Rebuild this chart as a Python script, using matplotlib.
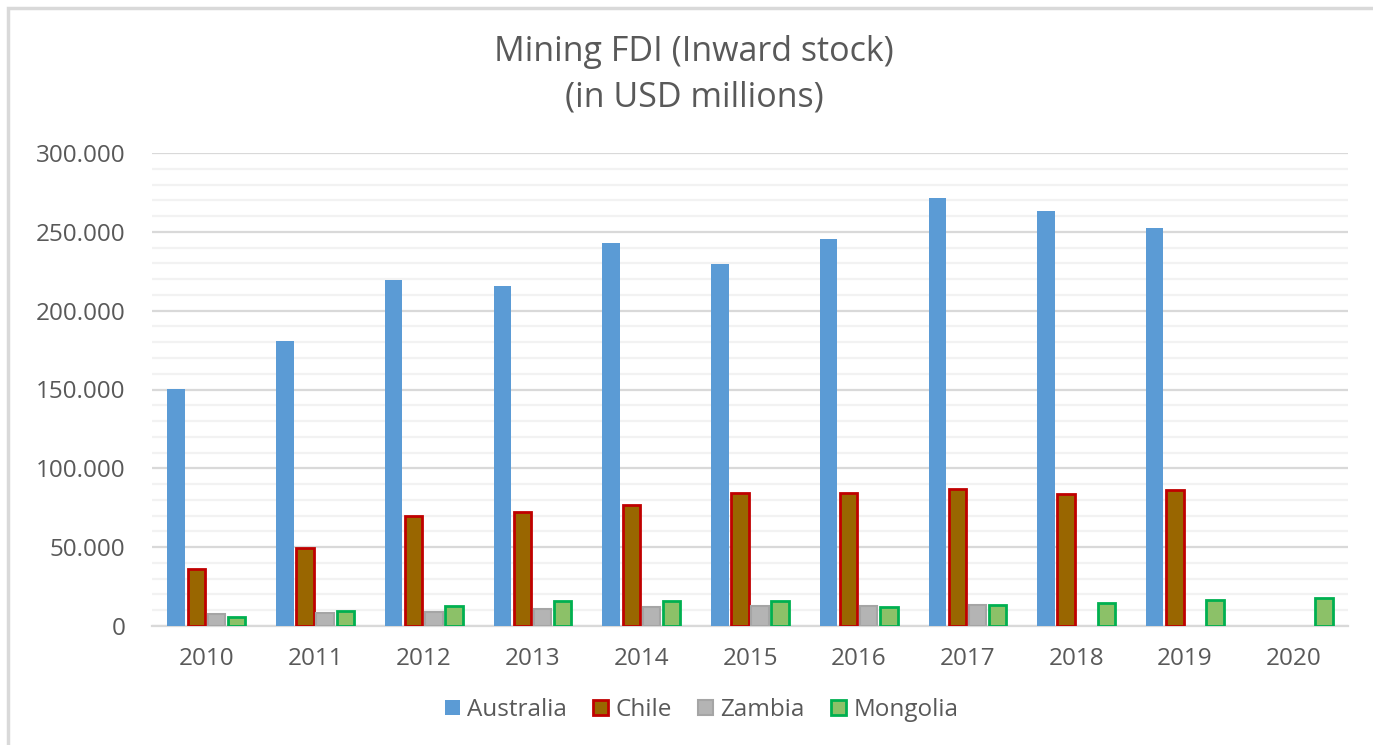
import matplotlib.pyplot as plt
import numpy as np
from matplotlib.patches import Rectangle

plt.rcParams['font.family'] = ['Open Sans', 'DejaVu Sans']

years = ['2010', '2011', '2012', '2013', '2014', '2015', '2016', '2017', '2018', '2019', '2020']
australia = [150.3, 180.7, 219.4, 215.6, 242.9, 229.6, 245.4, 271.4, 263.2, 252.4, np.nan]
chile = [36.1, 49.5, 69.8, 72.3, 76.7, 84.3, 84.3, 86.9, 83.7, 86.2, np.nan]
zambia = [7.6, 8.2, 9.1, 10.8, 12.0, 12.7, 12.7, 13.3, np.nan, np.nan, np.nan]
mongolia = [5.5, 9.7, 12.9, 15.8, 15.8, 15.8, 12.0, 13.3, 14.8, 16.5, 17.9]
ytick_vals = [0, 50, 100, 150, 200, 250, 300]
ytick_labels = ['0', '50.000', '100.000', '150.000', '200.000', '250.000', '300.000']

grey_text = '#595959'

fig = plt.figure(figsize=(13.73, 7.45), dpi=100)
# chart frame
fig.patches.append(Rectangle((8 / 1373, -0.1), 1.2, 1 - 8 / 745 + 0.1,
                             transform=fig.transFigure, fill=False,
                             edgecolor='#D9D9D9', linewidth=2.5))

ax = fig.add_axes([152 / 1373, 1 - 626 / 745, (1348 - 152) / 1373, (626 - 153) / 745])

x = np.arange(len(years))
w = 0.16
step = 0.185
ax.bar(x - 1.5 * step, australia, w, color='#5B9BD5', label='Australia', zorder=3)
ax.bar(x - 0.5 * step, chile, w, color='#996600', edgecolor='#C00000', linewidth=2,
       label='Chile', zorder=3)
ax.bar(x + 0.5 * step, zambia, w, color='#B4B4B4', edgecolor='#A5A5A5', linewidth=1.5,
       label='Zambia', zorder=3)
ax.bar(x + 1.5 * step, mongolia, w, color='#8CC168', edgecolor='#00B050', linewidth=2,
       label='Mongolia', zorder=3)

ax.set_xlim(-0.5, len(years) - 0.5)
ax.set_ylim(0, 300)
ax.set_yticks(ytick_vals)
ax.set_yticklabels(ytick_labels)
ax.set_yticks(np.arange(0, 301, 10), minor=True)
ax.set_xticks(x)
ax.set_xticklabels(years)
ax.tick_params(axis='y', which='both', length=0, pad=19, labelsize=17.5, labelcolor=grey_text)
ax.tick_params(axis='x', length=0, pad=15, labelsize=17.5, labelcolor=grey_text)
ax.grid(axis='y', which='major', color='#D9D9D9', linewidth=1.6, zorder=0)
ax.grid(axis='y', which='minor', color='#F2F2F2', linewidth=1.6, zorder=0)
for s in ['left', 'right', 'top']:
    ax.spines[s].set_visible(False)
ax.spines['bottom'].set_color('#D9D9D9')
ax.spines['bottom'].set_linewidth(1.6)

fig.text(0.5055, 1 - 52 / 745, 'Mining FDI (Inward stock)', ha='center', va='center',
         fontsize=24.5, color=grey_text)
fig.text(0.5055, 1 - 97 / 745, '(in USD millions)', ha='center', va='center',
         fontsize=24.5, color=grey_text)

fig.legend(loc='center', bbox_to_anchor=(0.511, 1 - 710 / 745), ncol=4, frameon=False,
           fontsize=17.5, labelcolor=grey_text, handlelength=0.6, handleheight=0.6,
           handletextpad=0.3, columnspacing=1.1)

fig.savefig('out.png', dpi=100)
